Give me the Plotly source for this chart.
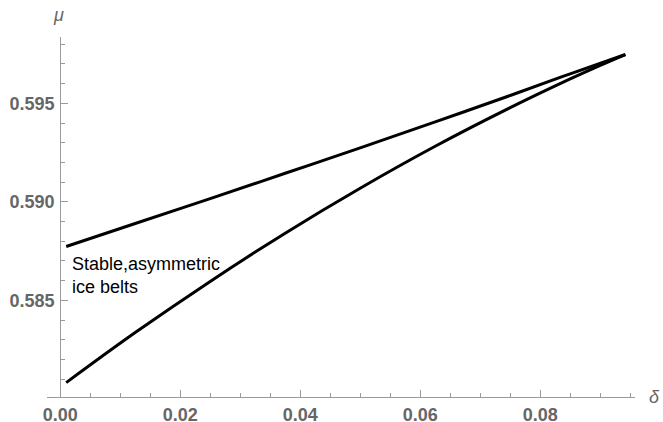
import plotly.graph_objects as go

# Data
delta_upper = [0.001, 0.0125, 0.025, 0.0375, 0.05, 0.0625, 0.075, 0.085, 0.0942]
mu_upper = [0.58773, 0.58890, 0.59016, 0.59145, 0.59274, 0.59406, 0.59540, 0.59650, 0.59748]

delta_lower = [0.001, 0.0125, 0.025, 0.0375, 0.05, 0.0625, 0.075, 0.085, 0.09, 0.0942]
mu_lower = [0.58082, 0.58336, 0.58596, 0.58841, 0.59069, 0.59282, 0.59478, 0.59624, 0.59693, 0.59748]

x_ticks = [0.00, 0.02, 0.04, 0.06, 0.08]
y_ticks = [0.585, 0.590, 0.595]

W, H = 663, 422
L, R, T, B = 46.7, 28, 36.7, 25.3
pw = W - L - R
ph = H - T - B


def px(xp):
    return (xp - L) / pw


def py(yp):
    return (H - yp - B) / ph


x_range = [-0.0022, 0.0958]
y_range = [0.58009, 0.59837]
ypos = (0 - x_range[0]) / (x_range[1] - x_range[0])

axis_col = "#9a9a9a"
lab_col = "#666666"
font = "Liberation Sans, Arial, sans-serif"

fig = go.Figure()
fig.add_trace(go.Scatter(x=delta_upper, y=mu_upper, mode="lines",
                         line=dict(color="black", width=3, shape="spline", smoothing=1.0),
                         showlegend=False))
fig.add_trace(go.Scatter(x=delta_lower, y=mu_lower, mode="lines",
                         line=dict(color="black", width=3, shape="spline", smoothing=1.0),
                         showlegend=False))

fig.update_layout(
    width=W, height=H,
    margin=dict(l=L, r=R, t=T, b=B, autoexpand=False),
    plot_bgcolor="white", paper_bgcolor="white",
    xaxis=dict(range=x_range, showgrid=False, zeroline=False,
               showline=True, linecolor=axis_col, linewidth=1,
               tickvals=x_ticks, tickformat=".2f",
               ticks="inside", ticklen=7, tickcolor=axis_col,
               tickfont=dict(family=font, size=18, color=lab_col, weight="bold"),
               minor=dict(dtick=0.005, tick0=0, ticks="inside", ticklen=4, tickcolor=axis_col),
               ticklabelstandoff=1),
    yaxis=dict(range=y_range, showgrid=False, zeroline=False,
               anchor="free", position=ypos,
               showline=True, linecolor=axis_col, linewidth=1,
               tickvals=y_ticks, tickformat=".3f",
               ticks="inside", ticklen=7, tickcolor=axis_col,
               tickfont=dict(family=font, size=18, color=lab_col, weight="bold"),
               minor=dict(dtick=0.001, tick0=0, ticks="inside", ticklen=4, tickcolor=axis_col),
               ticklabelstandoff=2),
)

fig.add_annotation(text="μ", xref="paper", yref="paper",
                   x=px(58), y=py(15),
                   showarrow=False, xanchor="center", yanchor="middle",
                   font=dict(family=font, size=18, color=lab_col, style="italic"))
fig.add_annotation(text="δ", xref="paper", yref="paper",
                   x=px(655), y=py(397),
                   showarrow=False, xanchor="center", yanchor="middle",
                   font=dict(family=font, size=18, color=lab_col, style="italic"))
fig.add_annotation(text="Stable,asymmetric<br>ice belts", xref="x", yref="y",
                   x=0.00167, y=0.58624, showarrow=False,
                   xanchor="left", yanchor="middle", align="left",
                   font=dict(family=font, size=18, color="black"))

fig.write_html("out.html",
               config={"displayModeBar": False},
               post_script="document.body.style.margin='0';document.body.style.overflow='hidden';")
